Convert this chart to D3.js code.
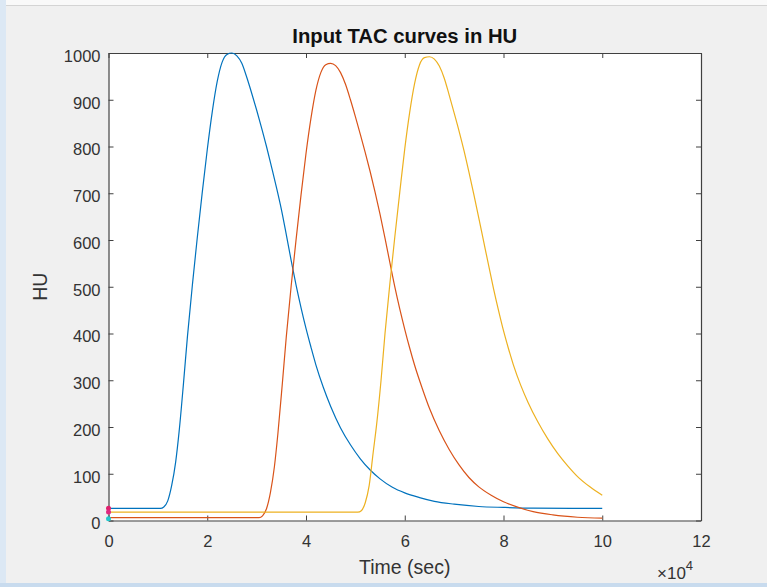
<!DOCTYPE html>
<html>
<head>
<meta charset="utf-8">
<script src="https://cdn.jsdelivr.net/npm/d3@7"></script>
<style>
  body { margin: 0; background: #f0f0f0; }
  svg { display: block; }
  .tick_label { font-family: "Liberation Sans", Arial, Helvetica, sans-serif; font-size: 16.5px; fill: #333; }
</style>
</head>
<body>
<div id="chart_area"></div>
<script>
// Data (time in seconds, values in HU).
var blue_time = [0, 10500, 11200, 12000, 12800, 13600, 14300, 15200, 16000, 17000, 18000, 19000, 20000, 21000, 22000, 23000, 24000, 25000,
  26000, 27000, 28000, 29000, 30000, 31000, 32000, 33000, 34000, 35000, 36000, 37000, 38000, 39000, 40000, 41000, 42000, 43500, 45000,
  47000, 49000, 51000, 53000, 55000, 57500, 60000, 63000, 66000, 70000, 75000, 80000, 86000, 100000];
var blue_hu = [26, 26, 29, 42, 75, 125, 190, 295, 395, 505, 607, 703, 793, 873, 938, 980, 997, 1000,
  994, 978, 948, 914, 878, 840, 800, 757, 713, 666, 612, 556, 503, 455, 411, 371, 333, 285, 244,
  198, 162, 132, 108, 89, 71, 59, 49, 41, 35, 30, 28, 26.5, 26];

var red_time = [0, 30500, 31200, 32000, 32800, 33600, 34300, 35200, 36000, 37000, 38000, 39000, 40000, 41000, 42000, 43000, 44000, 45000,
  46000, 47000, 48000, 49000, 50000, 51000, 52000, 53000, 54000, 55000, 56000, 57000, 58000, 59000, 60000, 61000, 62000, 63500, 65000,
  67000, 69000, 71000, 73000, 75000, 77500, 80000, 83000, 86000, 90000, 95000, 100000];
var red_hu = [6, 6, 10, 25, 60, 115, 185, 292, 392, 502, 602, 697, 785, 860, 920, 958, 975, 978,
  973, 958, 933, 900, 864, 826, 787, 746, 702, 655, 604, 551, 499, 452, 409, 369, 332, 284, 240,
  192, 152, 119, 92, 72, 54, 40, 28, 19, 12, 7, 5];

var yellow_time = [0, 50500, 51200, 52000, 52800, 53600, 54300, 55200, 56000, 57000, 58000, 59000, 60000, 61000, 62000, 63000, 64000, 65000,
  66000, 67000, 68000, 69000, 70000, 71000, 72000, 73000, 74000, 75000, 76000, 77000, 78000, 79000, 80000, 81000, 82000, 83500, 85000,
  87000, 89000, 91000, 93000, 95000, 97500, 100000];
var yellow_hu = [18, 18, 21, 38, 75, 145, 205, 300, 400, 508, 608, 703, 795, 873, 935, 975, 990, 992,
  987, 972, 946, 910, 872, 833, 791, 745, 697, 647, 596, 545, 495, 449, 406, 368, 333, 289, 252,
  210, 174, 143, 117, 94, 72, 54];

// little coloured markers sitting on the y axis at t = 0
var marker_hu = [26, 18, 4];
var marker_colors = ["#e0206e", "#e02a80", "#22c8cc"];

var x_ticks = [0, 20000, 40000, 60000, 80000, 100000, 120000];
var y_ticks = [0, 100, 200, 300, 400, 500, 600, 700, 800, 900, 1000];

var series = [
  {name: "blue", time: blue_time, hu: blue_hu, color: "#0072bd"},
  {name: "red", time: red_time, hu: red_hu, color: "#d95319"},
  {name: "yellow", time: yellow_time, hu: yellow_hu, color: "#edb120"}
];

// Frame and canvas
var frame_width = 767;
var frame_height = 587;
var margin = {top: 53, right: 66, bottom: 66.5, left: 108.5};
var canvas_width = frame_width - margin.left - margin.right;
var canvas_height = frame_height - margin.top - margin.bottom;

var frame = d3.select("#chart_area").append("svg")
  .attr("width", frame_width)
  .attr("height", frame_height);

// window decoration: pale strips at top, left and bottom
frame.append("rect").attr("x", 0).attr("y", 0).attr("width", frame_width).attr("height", frame_height).attr("fill", "#f0f0f0");
frame.append("rect").attr("x", 0).attr("y", 0).attr("width", frame_width).attr("height", 5).attr("fill", "#f9f9f9");
frame.append("line").attr("x1", 0).attr("x2", frame_width).attr("y1", 5.5).attr("y2", 5.5).attr("stroke", "#d4d4d4");
frame.append("rect").attr("x", 0).attr("y", 0).attr("width", 6).attr("height", frame_height).attr("fill", "#dce8f4");
frame.append("rect").attr("x", 0).attr("y", 583).attr("width", frame_width).attr("height", 4).attr("fill", "#c8dbee");

var canvas = frame.append("g")
  .attr("transform", "translate(" + margin.left + "," + margin.top + ")");

canvas.append("rect")
  .attr("width", canvas_width)
  .attr("height", canvas_height)
  .attr("fill", "#ffffff");

// Scales
var xScale = d3.scaleLinear().domain([0, 120000]).range([0, canvas_width]);
var yScale = d3.scaleLinear().domain([0, 1000]).range([canvas_height, 0]);

// Axes - MATLAB style, ticks pointing inwards on all four sides
var axis_color = "#404040";
var xAxis = d3.axisBottom(xScale).tickValues(x_ticks).tickSizeInner(-5).tickSizeOuter(0).tickPadding(15)
  .tickFormat(function(d) { return d / 1e4; });
var xAxisTop = d3.axisTop(xScale).tickValues(x_ticks).tickSizeInner(-5).tickSizeOuter(0).tickFormat("");
var yAxis = d3.axisLeft(yScale).tickValues(y_ticks).tickSizeInner(-5).tickSizeOuter(0).tickPadding(8)
  .tickFormat(d3.format("d"));
var yAxisRight = d3.axisRight(yScale).tickValues(y_ticks).tickSizeInner(-5).tickSizeOuter(0).tickFormat("");

function style_axis(g) {
  g.select(".domain").attr("stroke", axis_color).attr("stroke-width", 1.2);
  g.selectAll(".tick line").attr("stroke", axis_color).attr("stroke-width", 1);
  g.selectAll(".tick text").attr("class", "tick_label").attr("fill", "#333");
}

canvas.append("g").attr("transform", "translate(0," + canvas_height + ")").call(xAxis).call(style_axis)
  .selectAll(".tick text").attr("dy", "0.71em");
canvas.append("g").call(xAxisTop).call(style_axis);
canvas.append("g").call(yAxis).call(style_axis)
  .selectAll(".tick text").attr("dy", "0.5em");
canvas.append("g").attr("transform", "translate(" + canvas_width + ",0)").call(yAxisRight).call(style_axis);

// Curves
var line = d3.line()
  .x(function(d) { return xScale(d[0]); })
  .y(function(d) { return yScale(d[1]); })
  .curve(d3.curveMonotoneX);

var data_canvas = canvas.append("g");
series.forEach(function(s) {
  var pts = s.time.map(function(t, i) { return [t, s.hu[i]]; });
  data_canvas.append("path")
    .attr("d", line(pts))
    .attr("fill", "none")
    .attr("stroke", s.color)
    .attr("stroke-width", 1.2);
});

data_canvas.selectAll(".marker")
  .data(marker_hu)
  .enter().append("circle")
  .attr("class", "marker")
  .attr("cx", xScale(0))
  .attr("cy", function(d) { return yScale(d); })
  .attr("r", 2.5)
  .attr("fill", function(d, i) { return marker_colors[i]; });

// Texts
var font = "'Liberation Sans', Arial, Helvetica, sans-serif";
frame.append("text")
  .attr("x", margin.left + canvas_width / 2)
  .attr("y", 43)
  .attr("text-anchor", "middle")
  .style("font-family", font).style("font-size", "20.3px").style("font-weight", "bold")
  .attr("fill", "#111")
  .text("Input TAC curves in HU");

frame.append("text")
  .attr("x", margin.left + canvas_width / 2)
  .attr("y", 574)
  .attr("text-anchor", "middle")
  .style("font-family", font).style("font-size", "19.5px")
  .attr("fill", "#333")
  .text("Time (sec)");

frame.append("text")
  .attr("transform", "translate(47," + (margin.top + canvas_height / 2) + ") rotate(-90)")
  .attr("text-anchor", "middle")
  .style("font-family", font).style("font-size", "19.5px")
  .attr("fill", "#333")
  .text("HU");

var exp_label = frame.append("text")
  .attr("x", 657)
  .attr("y", 579)
  .style("font-family", font).style("font-size", "17px")
  .attr("fill", "#333");
exp_label.append("tspan").text("\u00d710");
exp_label.append("tspan").attr("dy", -9).style("font-size", "13px").text("4");
</script>
</body>
</html>
